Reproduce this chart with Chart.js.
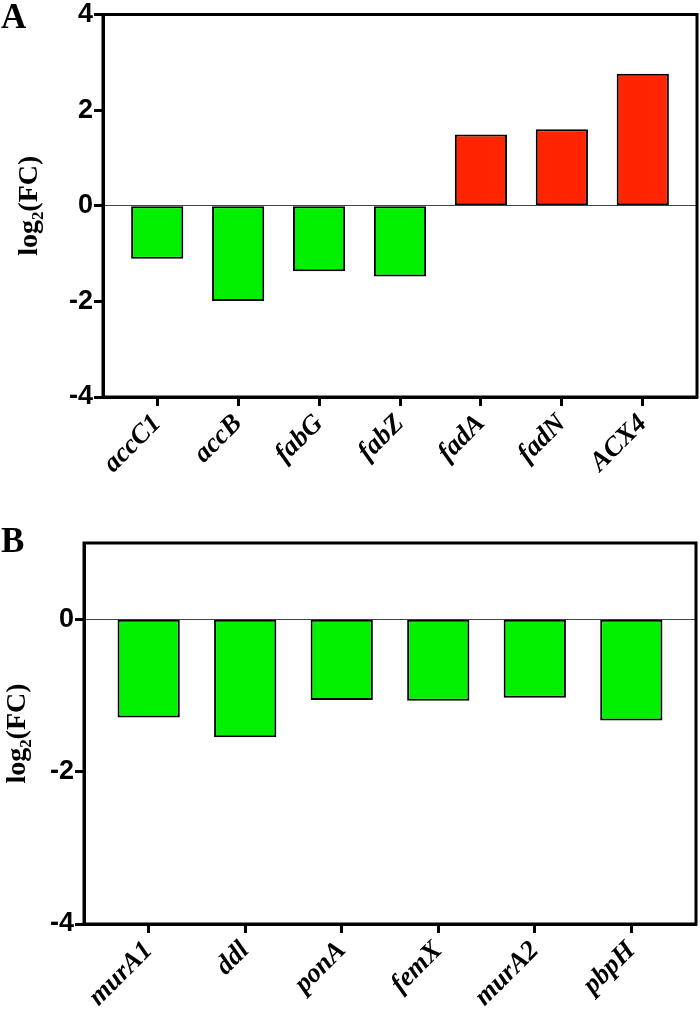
<!DOCTYPE html>
<html>
<head>
<meta charset="utf-8">
<script src="https://cdn.jsdelivr.net/npm/chart.js@4.4.1/dist/chart.umd.min.js"></script>
<style>
  body { margin: 0; background: #fff; }
  #wrap { position: relative; width: 700px; height: 1010px; }
  .panel { position: absolute; left: 0; }
  .tag { position: absolute; left: 1px; font: bold 35px 'Liberation Serif', serif; line-height: 34px; color: #000; }
</style>
</head>
<body>
<div id="wrap">
  <canvas id="chartA" class="panel" width="700" height="490" style="top:0"></canvas>
  <canvas id="chartB" class="panel" width="700" height="510" style="top:500px"></canvas>
  <div class="tag" style="top:0">A</div>
  <div class="tag" style="top:524px">B</div>
</div>
<script>
// panel A - fatty acid genes
var genesA = ["accC1", "accB", "fabG", "fabZ", "fadA", "fadN", "ACX4"];
var valuesA = [-1.11, -1.99, -1.37, -1.48, 1.49, 1.60, 2.76];
var ticksA = [-4, -2, 0, 2, 4];

// panel B - cell wall genes
var genesB = ["murA1", "ddl", "ponA", "femX", "murA2", "pbpH"];
var valuesB = [-1.29, -1.55, -1.06, -1.07, -1.03, -1.33];
var ticksB = [-4, -2, 0];

var green = "#00f000";
var red = "#ff2500";

// box around the plot area
var frame = {
  id: 'frame',
  afterDraw: function(chart) {
    var a = chart.chartArea, c = chart.ctx;
    c.save();
    c.strokeStyle = '#000';
    c.lineWidth = 3;
    c.strokeRect(a.left, a.top, a.right - a.left, a.bottom - a.top);
    c.restore();
  }
};

function makeChart(id, genes, values, yTicks, yMin, yMax, box) {
  var ctx = document.getElementById(id).getContext('2d');
  return new Chart(ctx, {
    type: 'bar',
    data: {
      datasets: [{
        data: values.map(function(v, i) { return { x: i, y: v }; }),
        backgroundColor: values.map(function(v) { return v > 0 ? red : green; }),
        borderColor: '#000',
        borderWidth: 2,
        borderSkipped: false,
        categoryPercentage: 1,
        barPercentage: 0.645
      }]
    },
    options: {
      responsive: false,
      animation: false,
      devicePixelRatio: 1,
      layout: { padding: box.pad },
      plugins: { legend: { display: false }, tooltip: { enabled: false } },
      scales: {
        x: {
          type: 'linear',
          offset: false,
          min: -0.67,
          max: genes.length - 1 + 0.67,
          afterBuildTicks: function(s) { s.ticks = genes.map(function(g, i) { return { value: i }; }); },
          afterFit: function(s) { s.height = box.xh; },
          ticks: {
            autoSkip: false,
            maxRotation: 45,
            minRotation: 45,
            padding: 2,
            color: '#000',
            font: { family: 'Liberation Serif', style: 'italic', weight: 'bold', size: 27 },
            callback: function(v) { return genes[v]; }
          },
          grid: { offset: false, drawOnChartArea: false, tickLength: 9, tickWidth: 3, tickColor: '#000' },
          border: { color: '#000', width: 3 }
        },
        y: {
          min: yMin,
          max: yMax,
          afterBuildTicks: function(s) { s.ticks = yTicks.map(function(v) { return { value: v }; }); },
          afterFit: function(s) { s.width = box.yw; },
          ticks: {
            padding: 1,
            color: '#000',
            font: { family: 'Liberation Sans', weight: 'bold', size: 27, lineHeight: 1 }
          },
          grid: {
            color: function(c) { return c.tick && c.tick.value === 0 ? '#444' : 'rgba(0,0,0,0)'; },
            lineWidth: 1,
            tickLength: 9,
            tickWidth: 3,
            tickColor: '#000'
          },
          border: { color: '#000', width: 3 },
          title: {
            display: true,
            text: 'log\u2082(FC)',
            color: '#000',
            font: { family: 'Liberation Serif', weight: 'bold', size: 28 },
            padding: { top: box.tp, bottom: 0 }
          }
        }
      }
    },
    plugins: [frame]
  });
}

makeChart('chartA', genesA, valuesA, ticksA, -4, 4,
  { pad: { top: 12, right: 3, left: 0, bottom: 0 }, yw: 103, xh: 93, tp: 13 });
makeChart('chartB', genesB, valuesB, ticksB, -4, 1,
  { pad: { top: 43, right: 4, left: 0, bottom: 0 }, yw: 84, xh: 86, tp: 1 });
</script>
</body>
</html>
